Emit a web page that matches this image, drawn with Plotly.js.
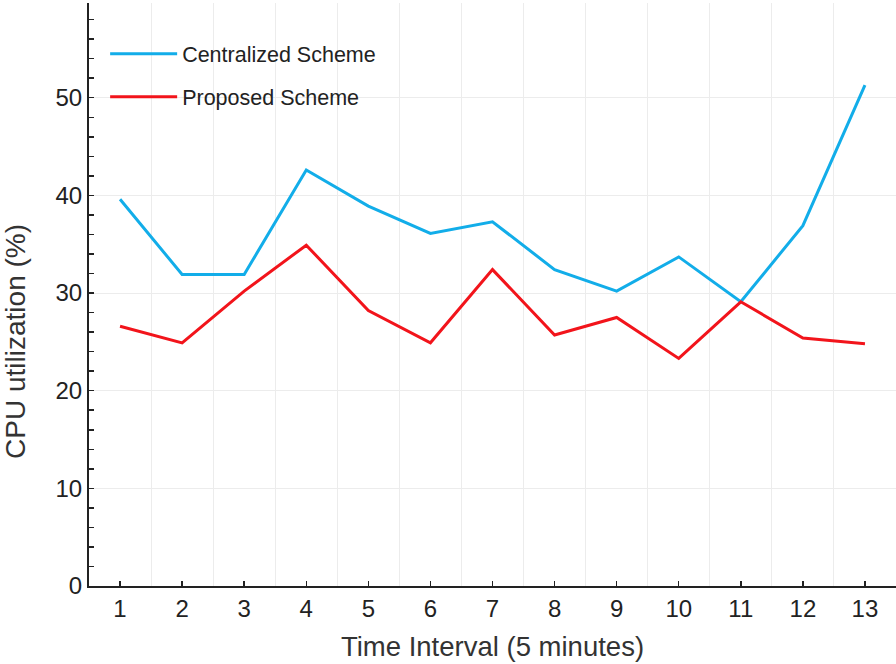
<!DOCTYPE html>
<html>
<head>
<meta charset="utf-8">
<script src="https://cdn.plot.ly/plotly-3.0.1.min.js"></script>
<style>html,body{margin:0;padding:0;background:#fff;}#chart{width:896px;height:664px;}</style>
</head>
<body>
<div id="chart"></div>
<script>
const intervals = [1,2,3,4,5,6,7,8,9,10,11,12,13];
const centralized = [39.6,31.9,31.9,42.6,38.9,36.1,37.3,32.4,30.2,33.7,29.1,36.9,51.3];
const proposed = [26.6,24.9,30.2,34.9,28.2,24.9,32.4,25.7,27.5,23.3,29.1,25.4,24.8];
const seriesNames = ["Centralized Scheme","Proposed Scheme"];
const xTitle = "Time Interval (5 minutes)";
const yTitle = "CPU utilization (%)";

const font = "Arial, 'Liberation Sans', sans-serif";
const traces = [
  {x: intervals, y: centralized, name: seriesNames[0], type: 'scatter', mode: 'lines',
   line: {color: '#12ade9', width: 3}, legendgroup: 'a'},
  {x: intervals, y: proposed, name: seriesNames[1], type: 'scatter', mode: 'lines',
   line: {color: '#f2141b', width: 3}, legendgroup: 'b'}
];
const layout = {
  width: 896, height: 664,
  margin: {l: 89, r: 0, t: 3, b: 78},
  paper_bgcolor: '#fff', plot_bgcolor: '#fff',
  showlegend: true,
  legend: {x: 0.02, y: 0.948, xanchor: 'left', yanchor: 'top', bgcolor: 'rgba(0,0,0,0)',
           itemwidth: 67,
           font: {family: font, size: 21.5, color: '#222'}, traceorder: 'grouped', tracegroupgap: 12},
  xaxis: {
    range: [0.5, 13.5], tickmode: 'linear', tick0: 1, dtick: 1,
    ticks: 'inside', ticklen: 5, tickwidth: 1.5, tickcolor: '#222',
    showline: true, linecolor: '#222', linewidth: 2, showgrid: false, zeroline: false,
    tickfont: {family: font, size: 24, color: '#222'},
    minor: {tick0: 0.5, dtick: 1, showgrid: true, gridcolor: '#ececec', gridwidth: 1, ticks: ''},
    title: {text: xTitle, font: {family: font, size: 27.5, color: '#333'}, standoff: 16}
  },
  yaxis: {
    range: [0, 59.7], tickmode: 'linear', tick0: 0, dtick: 10,
    ticks: 'inside', ticklen: 5, tickwidth: 1.5, tickcolor: '#222',
    showline: true, linecolor: '#222', linewidth: 2, showgrid: true, gridcolor: '#ececec', gridwidth: 1,
    zeroline: false,
    tickfont: {family: font, size: 24, color: '#222'},
    minor: {dtick: 2, ticks: 'inside', ticklen: 5, tickwidth: 1.5, tickcolor: '#222', showgrid: false}
  },
  annotations: [{
    text: yTitle, xref: 'paper', yref: 'paper', x: -0.092, y: 0.42,
    xanchor: 'center', yanchor: 'middle', textangle: -90, showarrow: false,
    font: {family: font, size: 28, color: '#333'}
  }]
};
Plotly.newPlot('chart', traces, layout, {staticPlot: true, displayModeBar: false});
</script>
</body>
</html>
